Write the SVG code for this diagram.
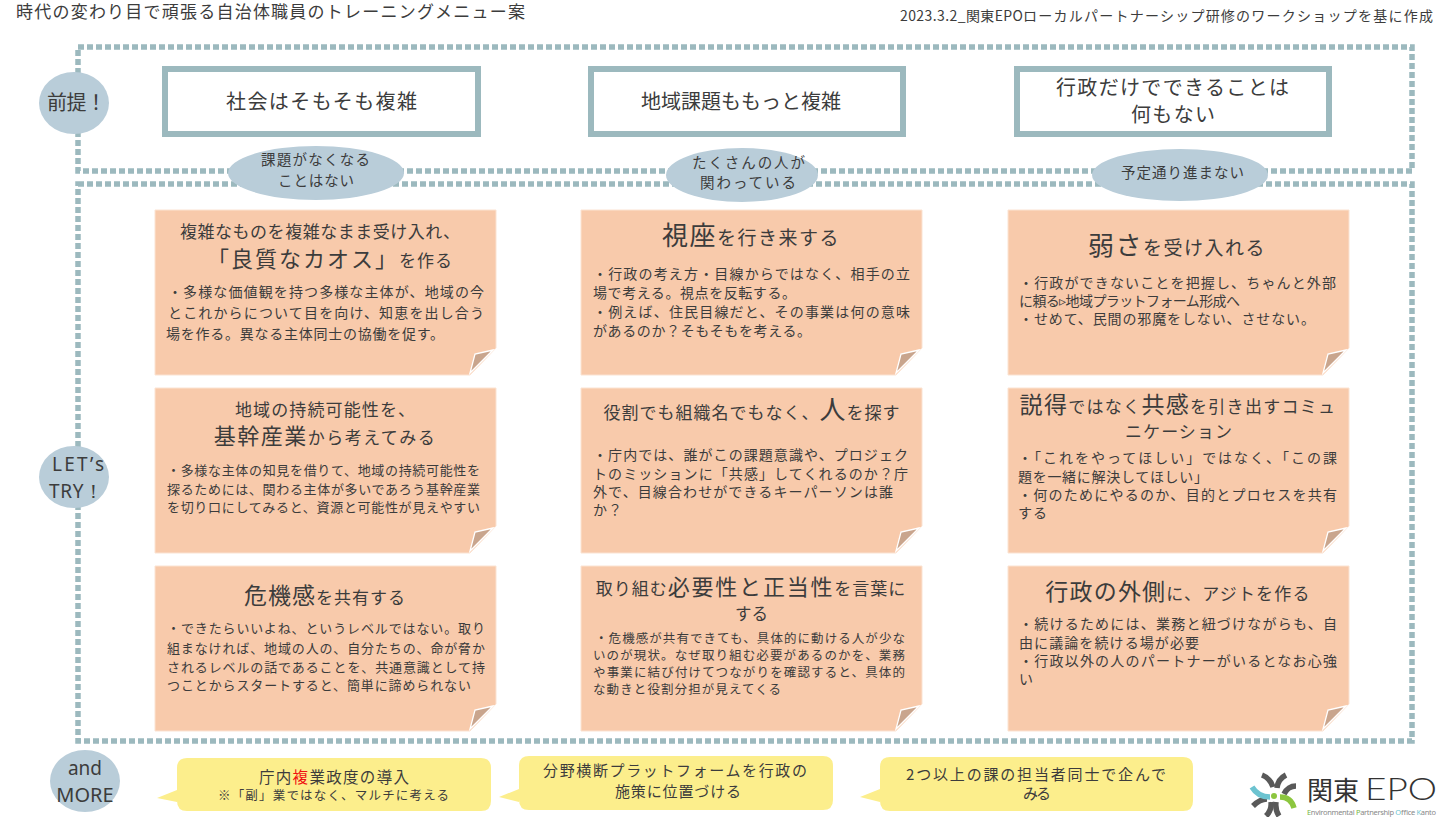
<svg xmlns="http://www.w3.org/2000/svg" width="1452" height="817" viewBox="0 0 1452 817">
<style>
text{font-family:"Noto Sans CJK JP","Noto Sans",sans-serif;fill:#3c3c3c}
.m{text-anchor:middle}
.lat{font-family:"Noto Sans",sans-serif}
.frame{fill:none;stroke:#9cb9be;stroke-width:5.5;stroke-dasharray:6 3}
.box{fill:#fff;stroke:#9cb9be;stroke-width:6}
.oval{fill:#b9cdd9}
.note{fill:#f8caab;stroke:#fbe3d2;stroke-width:1}
.fold{fill:#c9a58d;stroke:#fff;stroke-width:1.3}
.call{fill:#fcee8c}
.h{font-size:20px}.o{font-size:14.5px}.t{font-size:17px}.b{font-size:14px}.s{font-size:13px}
.arc{fill:none;stroke-width:5.5;stroke:#595959}
</style>
<defs>
<path id="n" class="note" d="M0 0H341V138L315 165H0Z"/>
<path id="f" class="fold" d="M338 140L320 144L315 163Z"/>
</defs>
<rect width="1452" height="817" fill="#fff"/>
<text id="title" x="16" y="18" font-size="17" textLength="509">時代の変わり目で頑張る自治体職員のトレーニングメニュー案</text>
<text id="source" y="21" font-size="14"><tspan x="900" textLength="123">2023.3.2_関東EPO</tspan><tspan x="1023" textLength="410">ローカルパートナーシップ研修のワークショップを基に作成</tspan></text>
<g id="frames">
<rect class="frame" x="78" y="47" width="1334" height="124"/>
<rect class="frame" x="78" y="184" width="1334" height="557"/>
</g>
<g id="label-premise"><ellipse class="oval" cx="74" cy="103" rx="35" ry="31"/><text x="47" y="110" font-size="20" textLength="59">前提！</text></g>
<g id="label-try"><ellipse class="oval" cx="74" cy="477" rx="35" ry="31"/><text class="lat" x="52" y="471" font-size="19" textLength="52">LET’s</text><text class="lat" x="49" y="498" font-size="19" textLength="54">TRY！</text></g>
<g id="label-more"><ellipse class="oval" cx="85" cy="781" rx="35" ry="31"/><text class="m lat" x="85" y="775" font-size="19">and</text><text class="m lat" x="85" y="802" font-size="20">MORE</text></g>

<g id="premise-1"><rect class="box" x="165" y="69" width="313" height="65"/><text class="h" x="226" y="109" textLength="191">社会はそもそも複雑</text></g>
<g id="premise-2"><rect class="box" x="591" y="69" width="312" height="65"/><text class="h" x="641" y="109" textLength="200">地域課題ももっと複雑</text></g>
<g id="premise-3"><rect class="box" x="1017" y="69" width="312" height="65"/><text class="h" x="1056" y="95" textLength="233">行政だけでできることは</text><text class="h" x="1131" y="122" textLength="84">何もない</text></g>

<g id="oval-1"><ellipse class="oval" cx="316" cy="173" rx="88" ry="27"/><text class="o" x="261" y="165" textLength="109">課題がなくなる</text><text class="o" x="278" y="186" textLength="76">ことはない</text></g>
<g id="oval-2"><ellipse class="oval" cx="742" cy="175" rx="76" ry="27"/><text class="o" x="692" y="168" textLength="113">たくさんの人が</text><text class="o" x="700" y="188" textLength="96">関わっている</text></g>
<g id="oval-3"><ellipse class="oval" cx="1180" cy="175" rx="88" ry="26"/><text class="o" x="1121" y="178" textLength="123">予定通り進まない</text></g>

<g id="note-1-1"><use href="#n" x="155" y="210"/><use href="#f" x="155" y="210"/>
<text class="t" x="180" y="238" textLength="280">複雑なものを複雑なまま受け入れ、</text>
<text class="m" x="330" y="267" font-size="17" letter-spacing="1"><tspan font-size="22" letter-spacing="2">「良質なカオス」</tspan>を作る</text>
<text class="b" x="168" y="297" textLength="316">・多様な価値観を持つ多様な主体が、地域の今</text>
<text class="b" x="168" y="318" textLength="316">とこれからについて目を向け、知恵を出し合う</text>
<text class="b" x="166" y="339" textLength="278">場を作る。異なる主体同士の協働を促す。</text></g>

<g id="note-1-2"><use href="#n" x="581" y="210"/><use href="#f" x="581" y="210"/>
<text class="m" x="751" y="245" font-size="19" letter-spacing="1.5"><tspan font-size="26">視座</tspan>を行き来する</text>
<text class="b" x="593" y="279" textLength="317">・行政の考え方・目線からではなく、相手の立</text>
<text class="b" x="593" y="298" textLength="203">場で考える。視点を反転する。</text>
<text class="b" x="593" y="317" textLength="317">・例えば、住民目線だと、その事業は何の意味</text>
<text class="b" x="593" y="336" textLength="218">があるのか？そもそもを考える。</text></g>

<g id="note-1-3"><use href="#n" x="1008" y="210"/><use href="#f" x="1008" y="210"/>
<text class="m" x="1177" y="255" font-size="19" letter-spacing="1.5"><tspan font-size="26">弱さ</tspan>を受け入れる</text>
<text class="b" x="1019" y="288" textLength="317">・行政ができないことを把握し、ちゃんと外部</text>
<text class="b" x="1019" y="306" textLength="221">に頼る▹地域プラットフォーム形成へ</text>
<text class="b" x="1019" y="324" textLength="296">・せめて、民間の邪魔をしない、させない。</text></g>

<g id="note-2-1"><use href="#n" x="155" y="388"/><use href="#f" x="155" y="388"/>
<text class="t" x="235" y="416" textLength="180">地域の持続可能性を、</text>
<text class="m" x="325" y="444" font-size="17" letter-spacing="1.5"><tspan font-size="22">基幹産業</tspan>から考えてみる</text>
<text class="s" x="167" y="475" textLength="313">・多様な主体の知見を借りて、地域の持続可能性を</text>
<text class="s" x="167" y="494" textLength="313">探るためには、関わる主体が多いであろう基幹産業</text>
<text class="s" x="167" y="512" textLength="313">を切り口にしてみると、資源と可能性が見えやすい</text></g>

<g id="note-2-2"><use href="#n" x="581" y="388"/><use href="#f" x="581" y="388"/>
<text class="m" x="752" y="419" font-size="17" letter-spacing="1"><tspan>役割でも組織名でもなく、</tspan><tspan font-size="26">人</tspan><tspan>を探す</tspan></text>
<text class="b" x="593" y="460" textLength="315">・庁内では、誰がこの課題意識や、プロジェク</text>
<text class="b" x="593" y="479" textLength="315">トのミッションに「共感」してくれるのか？庁</text>
<text class="b" x="593" y="497" textLength="300">外で、目線合わせができるキーパーソンは誰</text>
<text class="b" x="593" y="515" textLength="29">か？</text></g>

<g id="note-2-3"><use href="#n" x="1008" y="388"/><use href="#f" x="1008" y="388"/>
<text class="m" x="1178" y="413" font-size="17" letter-spacing="1.3"><tspan font-size="23">説得</tspan>ではなく<tspan font-size="23">共感</tspan>を引き出すコミュ</text>
<text class="t" x="1125" y="438" textLength="107">ニケーション</text>
<text class="b" x="1018" y="463" textLength="319">・「これをやってほしい」ではなく、「この課</text>
<text class="b" x="1018" y="482" textLength="190">題を一緒に解決してほしい」</text>
<text class="b" x="1018" y="500" textLength="319">・何のためにやるのか、目的とプロセスを共有</text>
<text class="b" x="1018" y="518" textLength="29">する</text></g>

<g id="note-3-1"><use href="#n" x="155" y="566"/><use href="#f" x="155" y="566"/>
<text class="m" x="325" y="604" font-size="17" letter-spacing="1"><tspan font-size="23">危機感</tspan>を共有する</text>
<text class="s" x="167" y="633" textLength="318">・できたらいいよね、というレベルではない。取り</text>
<text class="s" x="167" y="653" textLength="318">組まなければ、地域の人の、自分たちの、命が脅か</text>
<text class="s" x="167" y="672" textLength="318">されるレベルの話であることを、共通意識として持</text>
<text class="s" x="167" y="690" textLength="304">つことからスタートすると、簡単に諦められない</text></g>

<g id="note-3-2"><use href="#n" x="581" y="566"/><use href="#f" x="581" y="566"/>
<text class="m" x="751" y="595" font-size="17" letter-spacing="1"><tspan>取り組む</tspan><tspan font-size="22" letter-spacing="1.8">必要性と正当性</tspan><tspan>を言葉に</tspan></text>
<text x="735" y="620" font-size="16.5" textLength="33">する</text>
<text class="s" x="595" y="643" textLength="310" style="font-size:12.5px">・危機感が共有できても、具体的に動ける人が少な</text>
<text class="s" x="593" y="660" textLength="312" style="font-size:12.5px">いのが現状。なぜ取り組む必要があるのかを、業務</text>
<text class="s" x="593" y="677" textLength="312" style="font-size:12.5px">や事業に結び付けてつながりを確認すると、具体的</text>
<text class="s" x="593" y="694" textLength="188" style="font-size:12.5px">な動きと役割分担が見えてくる</text></g>

<g id="note-3-3"><use href="#n" x="1008" y="566"/><use href="#f" x="1008" y="566"/>
<text class="m" x="1178" y="600" font-size="17" letter-spacing="1.2"><tspan font-size="23">行政の外側</tspan>に、アジトを作る</text>
<text class="b" x="1019" y="629" textLength="318">・続けるためには、業務と紐づけながらも、自</text>
<text class="b" x="1019" y="648" textLength="180">由に議論を続ける場が必要</text>
<text class="b" x="1019" y="666" textLength="318">・行政以外の人のパートナーがいるとなお心強</text>
<text class="b" x="1019" y="684" textLength="14">い</text></g>

<g id="more-1"><path class="call" d="M187 758H481Q491 758 491 768V801Q491 811 481 811H187Q177 811 177 801V802L157 798L177 790V768Q177 758 187 758Z"/>
<text x="259" y="783" font-size="15.5" textLength="150">庁内<tspan style="fill:#f01010">複</tspan>業政度の導入</text>
<text x="218" y="800" font-size="12.5" textLength="231">※「副」業ではなく、マルチに考える</text></g>
<g id="more-2"><path class="call" d="M529 756H823Q833 756 833 766V800Q833 810 823 810H529Q519 810 519 800V802L499 797L519 789V766Q519 756 529 756Z"/>
<text x="543" y="776" font-size="15" textLength="264">分野横断プラットフォームを行政の</text>
<text x="615" y="797" font-size="15" textLength="126">施策に位置づける</text></g>
<g id="more-3"><path class="call" d="M890 757H1183Q1193 757 1193 767V801Q1193 811 1183 811H890Q880 811 880 801V802L860 797L880 789V767Q880 757 890 757Z"/>
<text x="906" y="780" font-size="15" textLength="260">2つ以上の課の担当者同士で企んで</text>
<text x="1023" y="799" font-size="15" textLength="28">みる</text></g>

<g id="logo">
<path class="arc" d="M1262 775Q1270 778 1273 787"/>
<path class="arc" d="M1286 775Q1278 779 1277 788"/>
<path class="arc" d="M1296 786Q1288 786 1284 794"/>
<path class="arc" d="M1253 806Q1260 799 1267 799"/>
<path class="arc" d="M1266 816Q1272 810 1271 802"/>
<path class="arc" d="M1279 816Q1275 810 1276 802"/>
<path class="arc" style="stroke:#6cc3d0" d="M1252 787Q1258 797 1270 797"/>
<path class="arc" style="stroke:#8cc63f" d="M1280 797Q1291 797 1294 808"/>
<circle cx="1274" cy="796" r="3" fill="#8cc63f"/>
<text x="1307" y="800" font-size="26" style="fill:#333">関東<tspan font-size="31" x="1365" style="font-family:Lato,sans-serif;font-weight:300" textLength="72" lengthAdjust="spacingAndGlyphs">EPO</tspan></text>
<text x="1307" y="815" font-size="7.5" textLength="129" style="fill:#888;font-family:'Noto Sans',sans-serif"><tspan style="fill:#7ab648">E</tspan>nvironmental <tspan style="fill:#7ab648">P</tspan>artnership <tspan style="fill:#6cc3d0">O</tspan>ffice <tspan style="fill:#6cc3d0">K</tspan>anto</text>
</g>
</svg>
